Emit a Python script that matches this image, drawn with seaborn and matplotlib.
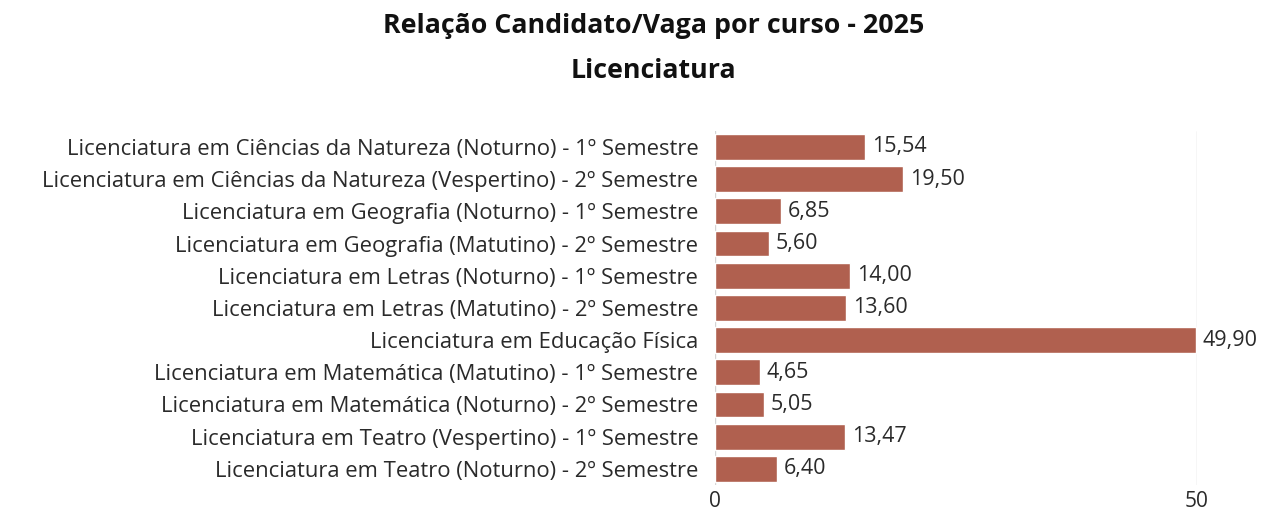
import matplotlib
matplotlib.use("Agg")
import matplotlib.pyplot as plt
import seaborn as sns
import pandas as pd

cursos = [
    "Licenciatura em Ciências da Natureza (Noturno) - 1º Semestre",
    "Licenciatura em Ciências da Natureza (Vespertino) - 2º Semestre",
    "Licenciatura em Geografia (Noturno) - 1º Semestre",
    "Licenciatura em Geografia (Matutino) - 2º Semestre",
    "Licenciatura em Letras (Noturno) - 1º Semestre",
    "Licenciatura em Letras (Matutino) - 2º Semestre",
    "Licenciatura em Educação Física",
    "Licenciatura em Matemática (Matutino) - 1º Semestre",
    "Licenciatura em Matemática (Noturno) - 2º Semestre",
    "Licenciatura em Teatro (Vespertino) - 1º Semestre",
    "Licenciatura em Teatro (Noturno) - 2º Semestre",
]
relacao = [15.54, 19.50, 6.85, 5.60, 14.00, 13.60, 49.90, 4.65, 5.05, 13.47, 6.40]
xticks = [0, 50]

sns.set_theme(style="white")
plt.rcParams['font.family'] = ['Open Sans', 'DejaVu Sans']

df = pd.DataFrame({"curso": cursos, "relacao": relacao})

fig = plt.figure(figsize=(12.61, 5.17), dpi=100)
ax = fig.add_axes([0.567, 0.062, 0.949 - 0.567, 0.747 - 0.062])
sns.barplot(data=df, y="curso", x="relacao", orient="h", color="#B0604F",
            saturation=1, width=0.8, ax=ax)
ax.set_xlim(0, 50)
ax.set_xticks(xticks)
ax.set_xticklabels([str(t) for t in xticks], fontsize=15, color="#2a2a2a")
ax.tick_params(axis="y", labelsize=15.8, labelcolor="#2a2a2a", length=0, pad=12)
ax.tick_params(axis="x", length=0, pad=4)
ax.set_xlabel("")
ax.set_ylabel("")
for s in ax.spines.values():
    s.set_visible(False)
ax.grid(axis="x", color="#d4d4d4", linewidth=1)
ax.set_axisbelow(True)
for c in ax.containers:
    ax.bar_label(c, labels=[f"{v:.2f}".replace(".", ",") for v in relacao],
                 padding=5, fontsize=15.5, color="#2a2a2a")

fig.text(0.518, 0.95, "Relação Candidato/Vaga por curso - 2025", ha="center", va="center",
         fontsize=19.3, fontweight="bold", color="#111111")
fig.text(0.518, 0.863, "Licenciatura", ha="center", va="center",
         fontsize=19.3, fontweight="bold", color="#111111")

fig.savefig("out.png", dpi=100)
